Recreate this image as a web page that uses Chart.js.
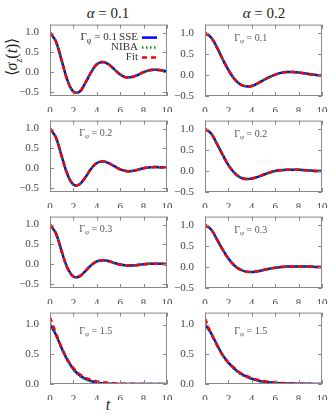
<!DOCTYPE html>
<html>
<head>
<meta charset="utf-8">
<script src="https://cdn.jsdelivr.net/npm/chart.js@4"></script>
<style>
  body { margin: 0; background: #fff; }
  #wrap { position: relative; width: 336px; height: 420px; font-family: "Liberation Serif", serif; color: #222; }
  #wrap canvas { position: absolute; }
  .lbl { position: absolute; white-space: nowrap; transform: translate(-50%, -50%); }
</style>
</head>
<body>
<div id="wrap">
  <div class="lbl" style="left:108px;top:13px;font-size:15px;"><i>α</i> = 0.1</div>
  <div class="lbl" style="left:264px;top:13px;font-size:15px;"><i>α</i> = 0.2</div>
  <div class="lbl" style="left:13px;top:57px;font-size:16px;transform:translate(-50%,-50%) rotate(-90deg);">⟨<i>σ</i><sub style="font-size:10px"><i>z</i></sub>(<i>t</i>)⟩</div>
  <div class="lbl" style="left:108px;top:405px;font-size:16px;"><i>t</i></div>
</div>
<script>
const tValues = [0, 0.5, 1, 1.5, 2, 2.5, 3, 3.5, 4, 4.5, 5, 5.5, 6, 6.5, 7, 7.5, 8, 8.5, 9, 9.5, 10];
const xTicks = [0, 2, 4, 6, 8, 10];
const yTicksOsc = [-0.5, 0, 0.5, 1.0];
const yTicksDecay = [0, 0.5, 1.0];
const gammaLabels = ['0.1', '0.2', '0.3', '1.5'];

// alpha = 0.1 column (SSE, NIBA and fit lie on top of each other in rows 1-3)
const sse_a1_g1 = [1.00, 0.78, 0.29, -0.21, -0.49, -0.50, -0.28, -0.01, 0.20, 0.26, 0.20, 0.07, -0.06, -0.13, -0.12, -0.07, 0.00, 0.05, 0.06, 0.05, 0.02];
const sse_a1_g2 = [1.00, 0.78, 0.30, -0.16, -0.41, -0.41, -0.24, -0.02, 0.13, 0.17, 0.13, 0.05, -0.03, -0.07, -0.07, -0.04, 0.00, 0.02, 0.03, 0.02, 0.01];
const sse_a1_g3 = [1.00, 0.78, 0.32, -0.10, -0.31, -0.31, -0.18, -0.03, 0.07, 0.10, 0.08, 0.03, -0.01, -0.03, -0.03, -0.02, 0.00, 0.01, 0.01, 0.01, 0.00];
const sse_a1_g4 = [1.00, 0.83, 0.60, 0.40, 0.25, 0.15, 0.09, 0.05, 0.025, 0.012, 0.006, 0.003, 0.001, 0, 0, 0, 0, 0, 0, 0, 0];
const niba_a1_g4 = [1.00, 0.83, 0.59, 0.39, 0.24, 0.14, 0.08, 0.045, 0.022, 0.01, 0.005, 0.002, 0.001, 0, 0, 0, 0, 0, 0, 0, 0];
const fit_a1_g4 = [1.12, 0.86, 0.61, 0.41, 0.27, 0.17, 0.11, 0.07, 0.045, 0.03, 0.02, 0.013, 0.008, 0.005, 0.003, 0.002, 0.001, 0.001, 0, 0, 0];

// alpha = 0.2 column
const sse_a2_g1 = [1.00, 0.90, 0.67, 0.38, 0.12, -0.09, -0.22, -0.27, -0.26, -0.20, -0.12, -0.05, 0.01, 0.05, 0.07, 0.07, 0.06, 0.04, 0.02, 0.00, -0.01];
const sse_a2_g2 = [1.00, 0.90, 0.66, 0.39, 0.14, -0.04, -0.15, -0.19, -0.18, -0.14, -0.09, -0.04, 0.00, 0.02, 0.03, 0.03, 0.03, 0.02, 0.01, 0.00, 0.00];
const sse_a2_g3 = [1.00, 0.90, 0.67, 0.42, 0.20, 0.04, -0.06, -0.11, -0.12, -0.10, -0.07, -0.04, -0.02, 0.00, 0.01, 0.01, 0.01, 0.01, 0.01, 0.00, 0.00];
const sse_a2_g4 = [1.00, 0.86, 0.67, 0.49, 0.36, 0.26, 0.18, 0.13, 0.09, 0.06, 0.04, 0.03, 0.02, 0.014, 0.01, 0.007, 0.005, 0.003, 0.002, 0.001, 0.001];
const niba_a2_g4 = [1.00, 0.86, 0.66, 0.48, 0.35, 0.25, 0.17, 0.12, 0.08, 0.055, 0.037, 0.025, 0.017, 0.011, 0.007, 0.005, 0.003, 0.002, 0.001, 0.001, 0];
const fit_a2_g4 = [1.10, 0.86, 0.66, 0.49, 0.36, 0.27, 0.19, 0.14, 0.10, 0.07, 0.05, 0.035, 0.025, 0.018, 0.012, 0.009, 0.006, 0.004, 0.003, 0.002, 0.001];

const panels = [
  {col: 0, row: 0, sse: sse_a1_g1, niba: sse_a1_g1, fit: sse_a1_g1, ymin: -0.6, yTicks: yTicksOsc},
  {col: 0, row: 1, sse: sse_a1_g2, niba: sse_a1_g2, fit: sse_a1_g2, ymin: -0.6, yTicks: yTicksOsc},
  {col: 0, row: 2, sse: sse_a1_g3, niba: sse_a1_g3, fit: sse_a1_g3, ymin: -0.6, yTicks: yTicksOsc},
  {col: 0, row: 3, sse: sse_a1_g4, niba: niba_a1_g4, fit: fit_a1_g4, ymin: 0, yTicks: yTicksDecay},
  {col: 1, row: 0, sse: sse_a2_g1, niba: sse_a2_g1, fit: sse_a2_g1, ymin: -0.5, yTicks: yTicksOsc},
  {col: 1, row: 1, sse: sse_a2_g2, niba: sse_a2_g2, fit: sse_a2_g2, ymin: -0.5, yTicks: yTicksOsc},
  {col: 1, row: 2, sse: sse_a2_g3, niba: sse_a2_g3, fit: sse_a2_g3, ymin: -0.5, yTicks: yTicksOsc},
  {col: 1, row: 3, sse: sse_a2_g4, niba: niba_a2_g4, fit: fit_a2_g4, ymin: 0, yTicks: yTicksDecay},
];

const FONT = '"Liberation Serif", serif';

function pts(arr) {
  return tValues.map((t, i) => ({x: t, y: arr[i]}));
}

function drawGamma(ctx, x, y, size, value) {
  ctx.font = size + 'px ' + FONT;
  ctx.fillText('Γ', x, y);
  let w = ctx.measureText('Γ').width;
  ctx.font = Math.round(size * 0.7) + 'px ' + FONT;
  ctx.fillText('φ', x + w, y + size * 0.3);
  w += ctx.measureText('φ').width;
  ctx.font = size + 'px ' + FONT;
  ctx.fillText(' = ' + value, x + w, y);
}

const framePlugin = {
  id: 'frame',
  afterDatasetsDraw(chart) {
    const {ctx, chartArea: a, scales: {x, y}} = chart;
    ctx.save();
    ctx.strokeStyle = '#888';
    ctx.lineWidth = 1;
    ctx.strokeRect(a.left + 0.5, a.top + 0.5, a.width - 1, a.height - 1);
    ctx.beginPath();
    xTicks.forEach(v => {
      const px = Math.round(x.getPixelForValue(v)) + 0.5;
      ctx.moveTo(px, a.bottom); ctx.lineTo(px, a.bottom - 4);
      ctx.moveTo(px, a.top); ctx.lineTo(px, a.top + 4);
    });
    chart.options.plugins.frame.yTicks.forEach(v => {
      const py = Math.round(y.getPixelForValue(v)) + 0.5;
      ctx.moveTo(a.left, py); ctx.lineTo(a.left + 4, py);
      ctx.moveTo(a.right, py); ctx.lineTo(a.right - 4, py);
    });
    ctx.stroke();

    const o = chart.options.plugins.frame;
    ctx.textBaseline = 'middle';
    if (o.legend) {
      const rows = [
        {txt: 'SSE', color: '#0000ff', dash: []},
        {txt: 'NIBA', color: '#00a000', dash: [1.5, 2.5]},
        {txt: 'Fit', color: '#ff0000', dash: [5, 4]},
      ];
      ctx.fillStyle = '#333';
      ctx.textAlign = 'right';
      rows.forEach((r, i) => {
        const yy = a.top + 13 + i * 10;
        const xr = a.left + 88;
        ctx.font = '11px ' + FONT;
        if (i === 0) {
          const sw = ctx.measureText(' SSE').width;
          ctx.fillText(' SSE', xr, yy);
          ctx.textAlign = 'left';
          ctx.font = '11px ' + FONT;
          const tot = ctx.measureText('Γ = ' + o.gamma).width + 4;
          drawGamma(ctx, xr - sw - tot, yy, 11, o.gamma);
          ctx.textAlign = 'right';
        } else {
          ctx.fillText(r.txt, xr, yy);
        }
        ctx.beginPath();
        ctx.setLineDash(r.dash);
        ctx.strokeStyle = r.color;
        ctx.lineWidth = 2.5;
        ctx.moveTo(xr + 4, yy); ctx.lineTo(xr + 19, yy);
        ctx.stroke();
        ctx.setLineDash([]);
      });
    } else {
      ctx.fillStyle = '#555';
      ctx.textAlign = 'left';
      drawGamma(ctx, x.getPixelForValue(2.5), y.getPixelForValue(o.noteY), 10, o.gamma);
    }
    ctx.restore();
  }
};

const wrap = document.getElementById('wrap');

panels.forEach((p, k) => {
  const plotLeft = p.col === 0 ? 50 : 205;
  const plotTop = 20 + 96 * p.row;
  const cv = document.createElement('canvas');
  cv.width = 165; cv.height = 97;
  cv.style.left = (plotLeft - 40) + 'px';
  cv.style.top = (plotTop - 5) + 'px';
  wrap.appendChild(cv);

  const ymax = 1.2;
  new Chart(cv, {
    type: 'line',
    data: {
      datasets: [
        {label: 'SSE', data: pts(p.sse), borderColor: '#0000ff', borderWidth: 2.5, order: 3},
        {label: 'NIBA', data: pts(p.niba), borderColor: '#00a000', borderWidth: 2.5, borderDash: [1.5, 2.5], order: 2},
        {label: 'Fit', data: pts(p.fit), borderColor: '#ff0000', borderWidth: 2.5, borderDash: [5, 4], order: 1},
      ]
    },
    options: {
      responsive: false,
      animation: false,
      devicePixelRatio: 1,
      layout: {padding: {top: 5, right: 8, left: 0, bottom: 0}},
      elements: {point: {radius: 0}, line: {tension: 0.4, fill: false}},
      plugins: {
        legend: {display: false},
        tooltip: {enabled: false},
        frame: {yTicks: p.yTicks, legend: k === 0, gamma: gammaLabels[p.row], noteY: 0.88},
      },
      scales: {
        x: {
          type: 'linear', min: 0, max: 10,
          grid: {display: false},
          border: {display: false},
          afterBuildTicks: s => { s.ticks = xTicks.map(v => ({value: v})); },
          afterFit: s => { s.height = 16; },
          ticks: {color: '#444', font: {family: FONT, size: 11}, padding: 1, maxRotation: 0,
                  callback: v => String(v)},
        },
        y: {
          min: p.ymin, max: ymax,
          grid: {display: false},
          border: {display: false},
          afterBuildTicks: s => { s.ticks = p.yTicks.map(v => ({value: v})); },
          afterFit: s => { s.width = 40; },
          ticks: {color: '#444', font: {family: FONT, size: 11}, padding: 3,
                  callback: v => (v < 0 ? '\u2212' : '') + Math.abs(v).toFixed(1)},
        }
      }
    },
    plugins: [framePlugin]
  });
});
</script>
</body>
</html>
